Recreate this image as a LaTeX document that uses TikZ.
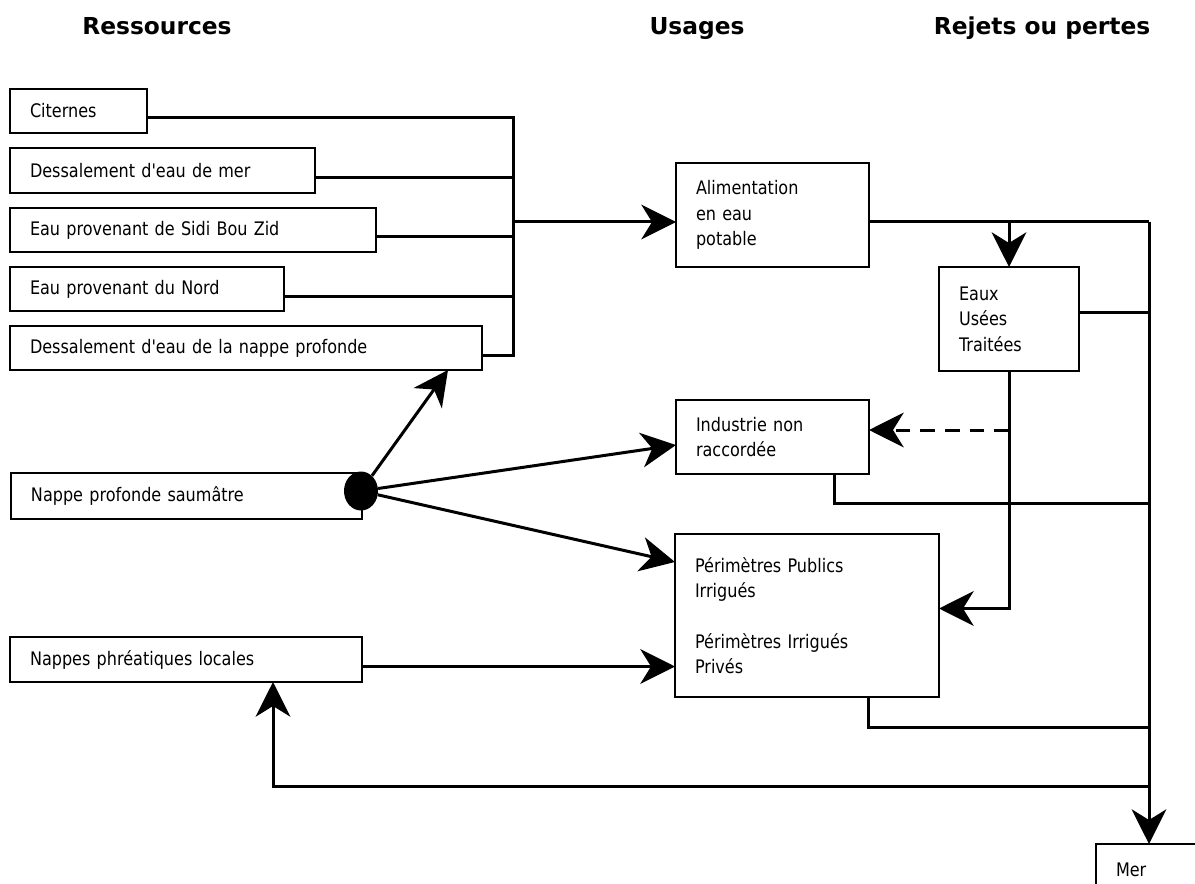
\documentclass[tikz,border=0pt]{standalone}
\usepackage{fontspec}
\setmainfont{DejaVu Sans}
\newfontfamily\boxfont{DejaVu Sans}[FakeStretch=0.86]
\usetikzlibrary{arrows.meta,calc,shapes.geometric}

\tikzset{
  box/.style={draw, line width=1.2pt, anchor=north west, align=left, outer sep=0pt,
    inner xsep=15pt, inner ysep=0pt, font=\boxfont\fontsize{14}{19}\selectfont},
  title/.style={anchor=base, font=\bfseries\fontsize{17.5}{20}\selectfont},
  flow/.style={line width=2.25pt},
  flowarr/.style={flow, -{Stealth[length=26pt, width=26pt, inset=8pt]}},
  dasharr/.style={flowarr, dash pattern=on 11pt off 7.5pt},
  dot/.style={ellipse, fill=black, minimum width=25.5pt, minimum height=29.25pt, inner sep=0pt}
}

\begin{document}
\begin{tikzpicture}[x=0.75pt, y=-0.75pt]
  \useasboundingbox (0,0) rectangle (1195,884);
  \clip (0,0) rectangle (1195,884);

  % Titles
  \node[title] (tres) at (157,35) {Ressources};
  \node[title] (tusa) at (697,35) {Usages};
  \node[title] (trej) at (1042,35) {Rejets ou pertes};

  % Resources
  \node[box, text width=72.75pt, minimum height=33pt] (citernes) at (10,89) {Citernes};
  \node[box, text width=198.75pt, minimum height=33.75pt] (dessmer) at (10,148) {Dessalement d'eau de mer};
  \node[box, text width=244.5pt, minimum height=33pt] (sidi) at (10,208) {Eau provenant de Sidi Bou Zid};
  \node[box, text width=175.5pt, minimum height=33pt] (nord) at (10,267) {Eau provenant du Nord};
  \node[box, text width=324pt, minimum height=33pt] (dessnappe) at (10,326) {Dessalement d'eau de la nappe profonde};
  \node[box, text width=233.25pt, minimum height=34.5pt] (saumatre) at (11,473) {Nappe profonde saumâtre};
  \node[box, text width=234pt, minimum height=33.75pt] (phreat) at (10,637) {Nappes phréatiques locales};

  % Usages
  \node[box, text width=114.75pt, minimum height=78pt] (alim) at (676,163) {Alimentation\\en eau\\potable};
  \node[box, text width=114.75pt, minimum height=55.5pt] (ind) at (676,400) {Industrie non\\raccordée};
  \node[box, text width=168pt, minimum height=122.25pt] (perim) at (675,534)
    {Périmètres Publics\\Irrigués\\[19pt]Périmètres Irrigués\\Privés};

  % Rejets
  \node[box, text width=75pt, minimum height=78pt] (eaux) at (939,267) {Eaux\\Usées\\Traitées};
  \node[box, text width=82.5pt, minimum height=39pt] (mer) at (1096,844) {Mer};

  \node[dot] (jct) at (361,491) {};
  \coordinate (coll) at (513,222);
  \coordinate (trunk) at (1149,222);

  % Collector towards drinking water
  \draw[flow] ($(citernes.east)+(0,7)$) -| (coll);
  \draw[flow] ($(dessnappe.east)+(0,7)$) -| (coll);
  \foreach \n in {dessmer,sidi,nord}
    \draw[flow] ($(\n.east)+(0,7)$) coordinate (p) -- (p -| coll);
  \draw[flowarr] (coll) -- ($(alim.west)+(0,7)$);

  % From the brackish aquifer
  \draw[flowarr] (jct) -- ($(dessnappe.south west)+(438,0)$);
  \draw[flowarr] (jct) -- ($(ind.west)+(0,8)$);
  \draw[flowarr] (jct) -- ($(perim.north west)+(0,28)$);
  \draw[flowarr] ($(phreat.east)+(0,7)$) coordinate (p) -- (p -| perim.west);

  % Discharges
  \draw[flow] ($(alim.east)+(0,7)$) -- (trunk);
  \draw[flowarr] (trunk) -- (trunk |- mer.north);
  \draw[flowarr] (eaux.north |- trunk) -- (eaux.north);
  \draw[flow] ($(eaux.east)+(0,-7)$) coordinate (p) -- (p -| trunk);
  \draw[flowarr] (eaux.south) |- ($(perim.east)+(0,-7)$);
  \coordinate (indin) at ($(ind.east)+(0,-7)$);
  \draw[dasharr] (eaux.south |- indin) -- (indin);
  \draw[flow] ($(ind.south west)+(158,0)$) -- ++(0,29) coordinate (p) -- (p -| trunk);
  \draw[flow] ($(perim.south west)+(193,0)$) -- ++(0,30) coordinate (p) -- (p -| trunk);

  % Return to local aquifers
  \coordinate (ret) at ($(phreat.south west)+(263,104)$);
  \draw[flowarr] (ret -| trunk) -- (ret) -- ($(phreat.south west)+(263,0)$);
\end{tikzpicture}
\end{document}
